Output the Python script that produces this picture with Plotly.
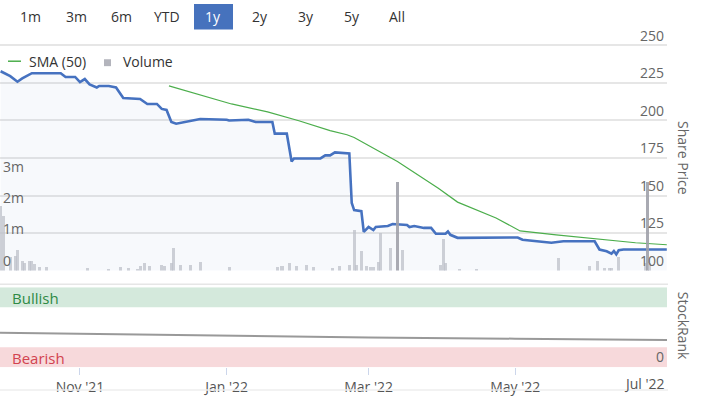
import plotly.graph_objects as go

# ---------------- data ----------------
price_dates = ["2021-09-29", "2021-10-03", "2021-10-06", "2021-10-08", "2021-10-12", "2021-10-24",
               "2021-10-26", "2021-10-30", "2021-11-01", "2021-11-03", "2021-11-05", "2021-11-08",
               "2021-11-09", "2021-11-13", "2021-11-16", "2021-11-19", "2021-11-26", "2021-11-28",
               "2021-11-29", "2021-12-03", "2021-12-05", "2021-12-07", "2021-12-09", "2021-12-11",
               "2021-12-15", "2021-12-21", "2022-01-01", "2022-01-02", "2022-01-10", "2022-01-13",
               "2022-01-20", "2022-01-21", "2022-01-26", "2022-01-28", "2022-01-29", "2022-02-09",
               "2022-02-11", "2022-02-13", "2022-02-15", "2022-02-21", "2022-02-22", "2022-02-23",
               "2022-02-26", "2022-02-27", "2022-03-01", "2022-03-03", "2022-03-04", "2022-03-09",
               "2022-03-11", "2022-03-17", "2022-03-18", "2022-03-20", "2022-03-24", "2022-03-27",
               "2022-03-29", "2022-04-02", "2022-04-03", "2022-04-04", "2022-04-07", "2022-04-19",
               "2022-05-02", "2022-05-04", "2022-05-10", "2022-05-16", "2022-05-21", "2022-06-03",
               "2022-06-05", "2022-06-08", "2022-06-10", "2022-06-11", "2022-06-12", "2022-06-13",
               "2022-06-15", "2022-07-03"]
price_values = [232.8, 229.5, 225.8, 228.0, 231.5, 231.5,
                229.0, 229.0, 225.6, 227.6, 224.0, 222.0,
                223.0, 223.0, 222.0, 215.0, 214.3, 212.4,
                211.0, 211.0, 207.7, 207.0, 199.0, 197.8,
                199.0, 201.0, 200.5, 200.0, 200.5, 199.0,
                199.0, 191.2, 191.2, 172.7, 174.7, 174.7,
                176.7, 176.7, 178.7, 178.0, 145.0, 140.3,
                139.6, 125.8, 129.0, 127.0, 129.0, 129.7,
                131.0, 130.4, 129.0, 129.7, 128.4, 128.4,
                124.5, 124.5, 126.0, 123.8, 121.8, 122.0,
                122.0, 120.5, 119.5, 118.5, 119.5, 119.5,
                114.0, 112.8, 111.2, 113.0, 110.8, 113.5,
                114.0, 114.0]

sma_dates = ["2021-12-08", "2022-01-03", "2022-01-18", "2022-01-24", "2022-01-31", "2022-02-13",
             "2022-02-20", "2022-02-23", "2022-03-13", "2022-03-30", "2022-04-07", "2022-04-23",
             "2022-05-03", "2022-05-18", "2022-06-03", "2022-06-20", "2022-07-03"]
sma_values = [223.0, 211.0, 205.7, 203.0, 199.8, 193.2,
              190.5, 188.6, 172.7, 154.9, 145.6, 135.0,
              126.4, 123.8, 121.2, 118.5, 117.2]

volume_dates = ["2021-09-29", "2021-09-30", "2021-10-03", "2021-10-05", "2021-10-06", "2021-10-08",
                "2021-10-09", "2021-10-11", "2021-10-12", "2021-10-13", "2021-10-15", "2021-10-18",
                "2021-11-04", "2021-11-13", "2021-11-18", "2021-11-21", "2021-11-25", "2021-11-26",
                "2021-11-28", "2021-11-30", "2021-12-05", "2021-12-06", "2021-12-09", "2021-12-10",
                "2021-12-13", "2021-12-17", "2021-12-21", "2022-01-02", "2022-01-22", "2022-01-24",
                "2022-01-27", "2022-01-30", "2022-02-03", "2022-02-06", "2022-02-14", "2022-02-17",
                "2022-02-21", "2022-02-23", "2022-02-24", "2022-02-26", "2022-02-28", "2022-03-02",
                "2022-03-03", "2022-03-05", "2022-03-06", "2022-03-10", "2022-03-13", "2022-03-15",
                "2022-03-31", "2022-04-01", "2022-04-02", "2022-04-08", "2022-04-15", "2022-05-19",
                "2022-06-01", "2022-06-04", "2022-06-07", "2022-06-09", "2022-06-10", "2022-06-13",
                "2022-06-24", "2022-06-25", "2022-06-26"]
volume_millions = [2.08, 1.75, 0.44, 0.47, 0.66, 0.32,
                   0.25, 0.32, 0.32, 0.22, 0.13, 0.13,
                   0.09, 0.06, 0.12, 0.08, 0.06, 0.16,
                   0.25, 0.16, 0.19, 0.16, 0.25, 0.73,
                   0.19, 0.19, 0.28, 0.12, 0.12, 0.16,
                   0.25, 0.16, 0.19, 0.12, 0.09, 0.16,
                   0.19, 1.29, 0.19, 0.62, 0.16, 0.12,
                   0.12, 0.28, 1.20, 0.73, 2.84, 0.66,
                   0.19, 1.00, 0.25, 0.05, 0.05, 0.41,
                   0.16, 0.32, 0.09, 0.09, 0.09, 0.44,
                   0.25, 2.84, 0.25]

rank_dates = ["2021-09-27", "2022-01-01", "2022-03-01", "2022-05-01", "2022-07-04"]
rank_values = [43.2, 39.1, 37.4, 35.8, 34.2]

price_ticks = [100, 125, 150, 175, 200, 225, 250]
volume_ticks = [0, 1, 2, 3]
volume_tick_labels = ["0", "1m", "2m", "3m"]
x_tick_dates = ["2021-11-01", "2022-01-01", "2022-03-01", "2022-05-01", "2022-07-01"]
x_tick_labels = ["Nov '21", "Jan '22", "Mar '22", "May '22", ""]
range_buttons = ["1m", "3m", "6m", "YTD", "1y", "2y", "3y", "5y", "All"]
selected_button = "1y"

# ---------------- layout helpers ----------------
W, H = 705, 396
def px(x):
    return x / W
def py(y):
    return 1 - y / H

FONT = "Open Sans, DejaVu Sans, sans-serif"
NARROW = "Liberation Sans Narrow, Open Sans, sans-serif"

# price pane: 100 at y=274px, 250 at y=46px; domain extended above so the 250 label shows
P_BOTTOM, P_250, P_TOP = 274, 46, 6
ppu = (P_BOTTOM - P_250) / 150.0
price_top = 250 + (P_250 - P_TOP) / ppu
VOL_PX_PER_M = 31.7
vol_top = (P_BOTTOM - P_TOP) / VOL_PX_PER_M

fig = go.Figure()

fig.add_trace(go.Scatter(
    x=price_dates, y=price_values, mode="lines", yaxis="y", xaxis="x",
    line=dict(color="#4672c0", width=2.6), fill="tozeroy",
    fillcolor="rgba(70,114,192,0.045)", hoverinfo="skip", showlegend=False))
fig.add_trace(go.Scatter(
    x=sma_dates, y=sma_values, mode="lines", yaxis="y", xaxis="x",
    line=dict(color="#4cae4c", width=1.2), hoverinfo="skip", showlegend=False))

vol_colors = ["rgba(160,161,170,0.9)" if v >= 2.5 else "rgba(190,192,202,0.75)" for v in volume_millions]
fig.add_trace(go.Bar(
    x=volume_dates, y=volume_millions, yaxis="y2", xaxis="x",
    marker=dict(color=vol_colors, line=dict(width=0)),
    width=1.25 * 86400000, hoverinfo="skip", showlegend=False))

fig.add_trace(go.Scatter(
    x=rank_dates, y=rank_values, mode="lines", yaxis="y3", xaxis="x",
    line=dict(color="#999999", width=2), hoverinfo="skip", showlegend=False))

shapes = []
annotations = []

# StockRank bands
shapes.append(dict(type="rect", xref="x domain", yref="y3", x0=0, x1=1, y0=75, y1=100,
                   fillcolor="#d4e9dc", line=dict(width=0), layer="below"))
shapes.append(dict(type="rect", xref="x domain", yref="y3", x0=0, x1=1, y0=0, y1=25,
                   fillcolor="#f7d9db", line=dict(width=0), layer="below"))
annotations.append(dict(text="Bullish", xref="paper", yref="paper", x=px(10), y=py(302),
                        xanchor="left", yanchor="middle", showarrow=False,
                        font=dict(family=NARROW, size=15, color="#2f8a45")))
annotations.append(dict(text="Bearish", xref="paper", yref="paper", x=px(10), y=py(363),
                        xanchor="left", yanchor="middle", showarrow=False,
                        font=dict(family=NARROW, size=15, color="#d2434f")))

# separators
shapes.append(dict(type="line", xref="paper", yref="paper", x0=0, x1=px(668), y0=py(288), y1=py(288),
                   line=dict(color="#e6e6e6", width=1.5)))
shapes.append(dict(type="line", xref="paper", yref="paper", x0=0, x1=px(668), y0=py(395), y1=py(395),
                   line=dict(color="#eeeeee", width=1.5)))

# range selector
btn_centers = [30, 76, 121, 167, 213, 260, 306, 352, 397]
for label, cx in zip(range_buttons, btn_centers):
    if label == selected_button:
        shapes.append(dict(type="rect", xref="paper", yref="paper", x0=px(194), x1=px(233),
                           y0=py(30), y1=py(4), fillcolor="#4672bd", line=dict(width=0)))
        col = "#ffffff"
    else:
        col = "#333333"
    annotations.append(dict(text=label, xref="paper", yref="paper", x=px(cx), y=py(17),
                            xanchor="center", yanchor="middle", showarrow=False,
                            font=dict(family=FONT, size=14, color=col)))

# legend
shapes.append(dict(type="line", xref="paper", yref="paper", x0=px(8), x1=px(21), y0=py(62), y1=py(62),
                   line=dict(color="#4cae4c", width=1.5)))
annotations.append(dict(text="SMA (50)", xref="paper", yref="paper", x=px(27), y=py(62),
                        xanchor="left", yanchor="middle", showarrow=False,
                        font=dict(family=FONT, size=14, color="#333333")))
shapes.append(dict(type="rect", xref="paper", yref="paper", x0=px(104), x1=px(111), y0=py(67), y1=py(60),
                   fillcolor="#b3b4bc", line=dict(width=0)))
annotations.append(dict(text="Volume", xref="paper", yref="paper", x=px(121), y=py(62),
                        xanchor="left", yanchor="middle", showarrow=False,
                        font=dict(family=FONT, size=14, color="#333333")))

# axis titles
annotations.append(dict(text="Share Price", xref="paper", yref="paper", x=px(683), y=py(160),
                        textangle=90, xanchor="center", yanchor="middle", showarrow=False,
                        font=dict(family=FONT, size=14, color="#666666")))
annotations.append(dict(text="StockRank", xref="paper", yref="paper", x=px(683), y=py(330),
                        textangle=90, xanchor="center", yanchor="middle", showarrow=False,
                        font=dict(family=FONT, size=14, color="#666666")))
# last x label justified inside the chart
annotations.append(dict(text="Jul '22", xref="paper", yref="paper", x=px(667), y=py(388),
                        xanchor="right", yanchor="middle", showarrow=False,
                        font=dict(family=NARROW, size=14, color="#555555")))

fig.update_layout(
    width=W, height=H, margin=dict(l=0, r=0, t=0, b=0),
    paper_bgcolor="white", plot_bgcolor="rgba(0,0,0,0)",
    showlegend=False, bargap=0,
    shapes=shapes, annotations=annotations,
    xaxis=dict(domain=[0, px(667)], anchor="y3", type="date",
               range=["2021-09-28 18:00", "2022-07-03 02:00"],
               tickvals=x_tick_dates, ticktext=x_tick_labels,
               ticks="outside", ticklen=7, tickcolor="#ccd6eb", tickwidth=1,
               showgrid=False, zeroline=False, showline=False,
               tickfont=dict(family=NARROW, size=14, color="#555555")),
    yaxis=dict(domain=[py(P_BOTTOM), py(P_TOP)], range=[100, price_top], side="right", anchor="x",
               tickvals=price_ticks, ticklabelposition="inside top",
               gridcolor="#e6e6e6", gridwidth=1.5, zeroline=False, showline=False,
               tickfont=dict(family=FONT, size=14, color="#666666")),
    yaxis2=dict(overlaying="y", range=[0, vol_top], side="left", anchor="x",
                tickvals=volume_ticks, ticktext=volume_tick_labels,
                ticklabelposition="inside top", showgrid=False, zeroline=False, showline=False,
                tickfont=dict(family=FONT, size=14, color="#666666")),
    yaxis3=dict(domain=[py(372), py(291)], range=[0, 100], side="right", anchor="x",
                tickvals=[0], ticktext=["0"], ticklabelposition="inside top",
                showgrid=False, zeroline=False, showline=False,
                tickfont=dict(family=FONT, size=14, color="#666666")),
)

fig.write_html("out.html", config={"displayModeBar": False},
               post_script="document.body.style.margin='0';document.body.style.overflow='hidden';")
